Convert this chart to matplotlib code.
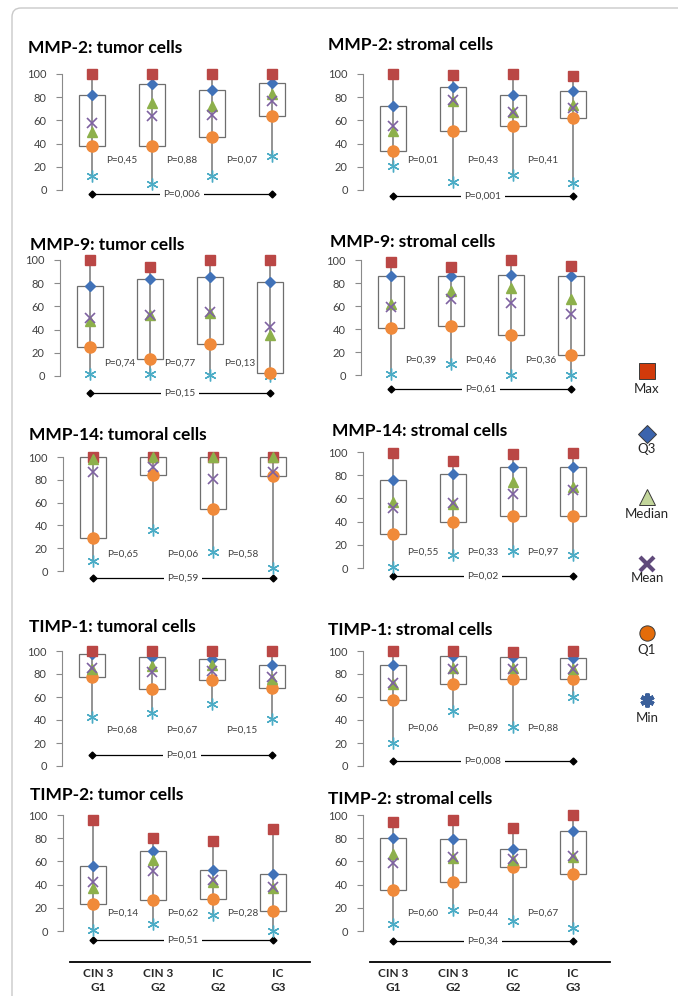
import matplotlib
matplotlib.use("Agg")
import matplotlib.pyplot as plt
from matplotlib import transforms
from matplotlib.patches import Rectangle, FancyBboxPatch

plt.rcParams["font.family"] = ["Lato", "DejaVu Sans"]

# -----------------------------
# Data (rows: Max, Q3, Median, Mean, Q1, Min; columns = groups)
# -----------------------------
groups = ["CIN 3\nG1", "CIN 3\nG2", "IC\nG2", "IC\nG3"]
stat_names = ["Max", "Q3", "Median", "Mean", "Q1", "Min"]

titles = [
    "MMP-2: tumor cells", "MMP-2: stromal cells",
    "MMP-9: tumor cells", "MMP-9: stromal cells",
    "MMP-14: tumoral cells", "MMP-14: stromal cells",
    "TIMP-1: tumoral cells", "TIMP-1: stromal cells",
    "TIMP-2: tumor cells", "TIMP-2: stromal cells",
]

mmp2_tumor = [[100, 100, 100, 100], [82, 91, 86, 92], [50, 75, 72, 83],
              [58, 64, 65, 77], [38, 38, 46, 64], [12, 5, 12, 29]]
mmp2_stromal = [[100, 99, 100, 98], [72, 89, 82, 85], [51, 77, 67, 73],
                [55, 78, 67, 71], [34, 51, 55, 62], [21, 7, 13, 6]]
mmp9_tumor = [[100, 94, 100, 100], [78, 84, 85, 81], [47, 53, 54, 35],
              [50, 53, 55, 42], [25, 15, 28, 3], [2, 2, 1, 0]]
mmp9_stromal = [[98, 94, 100, 95], [86, 86, 87, 86], [62, 73, 76, 66],
                [59, 66, 63, 53], [41, 43, 35, 17], [1, 10, 0, 0]]
mmp14_tumor = [[100, 100, 100, 100], [100, 100, 100, 100], [98, 100, 100, 100],
               [87, 91, 81, 87], [29, 84, 54, 83], [9, 36, 17, 3]]
mmp14_stromal = [[99, 92, 98, 99], [76, 81, 87, 87], [57, 55, 74, 70],
                 [52, 56, 64, 67], [29, 40, 45, 45], [1, 11, 15, 11]]
timp1_tumor = [[100, 100, 100, 100], [97, 95, 93, 88], [84, 87, 88, 76],
               [85, 82, 83, 77], [77, 67, 75, 68], [43, 46, 54, 41]]
timp1_stromal = [[100, 100, 99, 100], [88, 96, 95, 94], [71, 85, 85, 84],
                 [72, 84, 84, 84], [57, 71, 76, 76], [20, 48, 34, 60]]
timp2_tumor = [[96, 80, 78, 88], [56, 69, 53, 49], [37, 61, 42, 37],
               [42, 52, 44, 38], [23, 27, 28, 17], [1, 6, 14, 0]]
timp2_stromal = [[94, 96, 89, 100], [80, 79, 71, 86], [66, 63, 61, 64],
                 [59, 64, 62, 65], [35, 42, 55, 49], [6, 18, 9, 3]]

panels = [mmp2_tumor, mmp2_stromal, mmp9_tumor, mmp9_stromal, mmp14_tumor,
          mmp14_stromal, timp1_tumor, timp1_stromal, timp2_tumor, timp2_stromal]

# P values between neighbouring groups, and first vs last group
p_pairs = [
    ["P=0,45", "P=0,88", "P=0,07"], ["P=0,01", "P=0,43", "P=0,41"],
    ["P=0,74", "P=0,77", "P=0,13"], ["P=0,39", "P=0,46", "P=0,36"],
    ["P=0,65", "P=0,06", "P=0,58"], ["P=0,55", "P=0,33", "P=0,97"],
    ["P=0,68", "P=0,67", "P=0,15"], ["P=0,06", "P=0,89", "P=0,88"],
    ["P=0,14", "P=0,62", "P=0,28"], ["P=0,60", "P=0,44", "P=0,67"],
]
p_all = ["P=0,006", "P=0,001", "P=0,15", "P=0,61", "P=0,59",
         "P=0,02", "P=0,01", "P=0,008", "P=0,51", "P=0,34"]

# -----------------------------
# Layout (pixels): axis x, y of 100, y of 0, title x, title y, pair-P y, all-P y (data)
# -----------------------------
layout = [
    (62, 74, 190, 28, 48, 26, -3.5),
    (363, 74, 190, 328, 45, 26, -5),
    (60, 260, 376, 30, 245, 11, -15),
    (361, 260, 375, 330, 242, 13, -12),
    (63, 457, 571, 29, 435, 15, -6),
    (363, 452, 568, 332, 431, 14, -7),
    (62, 651, 766, 29, 627, 31, 9.5),
    (363, 651, 766, 328, 630, 33, 4),
    (63, 815, 931, 30, 795, 15.5, -7.5),
    (363, 815, 931, 328, 799, 15.5, -8.6),
]

colors = {"Max": "#BA4745", "Q3": "#4172B8", "Median": "#8DB04B",
          "Mean": "#7E62A1", "Q1": "#F08A3A", "Min": "#4BACC6"}
markers = {"Max": ("s", 7), "Q3": ("D", 5.5), "Median": ("^", 7.5),
           "Mean": ("x", 7), "Q1": ("o", 8), "Min": ((6, 2, 0), 8.5)}
widths = {"Max": 1.0, "Q3": 1.0, "Median": 1.0, "Mean": 1.2, "Q1": 1.0, "Min": 1.0}
zorders = {"Min": 4, "Q1": 5, "Q3": 6, "Max": 7, "Median": 8, "Mean": 9}

W, H = 678, 996
fig = plt.figure(figsize=(W / 100, H / 100), dpi=100)
over = fig.add_axes([0, 0, 1, 1])
over.set_xlim(0, W)
over.set_ylim(H, 0)
over.axis("off")

over.add_patch(FancyBboxPatch((12, 8), 720, 1050,
                              boxstyle="round,pad=0,rounding_size=9",
                              fill=False, ec="#c9c9c9", lw=1.0, clip_on=False))

YLO, YHI = -22, 108
x = [1, 2, 3, 4]

for k, data in enumerate(panels):
    ax_x, p100, p0, tx, ty, py, pall_y = layout[k]
    ppu = (p0 - p100) / 100
    top_px = p100 - (YHI - 100) * ppu
    bot_px = p0 - YLO * ppu
    ax = fig.add_axes([ax_x / W, 1 - bot_px / H, 252 / W, (bot_px - top_px) / H])
    ax.set_xlim(0.5, 4.7)
    ax.set_ylim(YLO, YHI)
    ax.patch.set_visible(False)
    for s in ["top", "right", "bottom"]:
        ax.spines[s].set_visible(False)
    ax.spines["left"].set_bounds(0, 100)
    ax.spines["left"].set_color("#8a8a8a")
    ax.spines["left"].set_linewidth(0.8)
    ax.set_xticks([])
    ax.set_yticks([0, 20, 40, 60, 80, 100])
    ax.tick_params(axis="y", length=4, width=0.8, color="#8a8a8a",
                   labelsize=8, labelcolor="#404040", pad=7)

    over.text(tx, ty, titles[k], fontsize=12.5, fontweight="bold",
              ha="left", va="center", color="black")

    vmax, q3, med, mean, q1, vmin = data
    for i in range(4):
        ax.add_patch(Rectangle((x[i] - 0.21, q1[i]), 0.42, q3[i] - q1[i],
                               fc="white", ec="#6e6e6e", lw=0.9, zorder=2,
                               clip_on=False))
    ax.vlines(x, vmin, vmax, color="#808080", lw=1.2, zorder=3, clip_on=False)

    for name, vals in zip(stat_names, data):
        m, ms = markers[name]
        ax.plot(x, vals, ls="none", marker=m, ms=ms, color=colors[name],
                mec=colors[name], mew=widths[name], zorder=zorders[name],
                clip_on=False)

    for j, label in enumerate(p_pairs[k]):
        ax.text(x[j] + 0.5, py, label, ha="center", va="center",
                fontsize=7.2, color="#404040", zorder=10)

    ax.plot([1, 4], [pall_y, pall_y], color="black", lw=0.9, marker="D",
            ms=3.5, zorder=3, clip_on=False)
    ax.text(2.5, pall_y, p_all[k], ha="center", va="center", fontsize=7.2,
            color="#404040", zorder=10,
            bbox=dict(fc="white", ec="none", pad=2.5))

    # group labels under the bottom row
    if k >= 8:
        trans = transforms.blended_transform_factory(ax.transData, over.transData)
        ax.plot([0.62, 4.62], [962, 962], color="black", lw=1.3,
                transform=trans, clip_on=False)
        for i, g in enumerate(groups):
            ax.text(x[i] + (0.08 if k == 8 else 0), 968, g, transform=trans,
                    ha="center", va="top", fontsize=8.5, fontweight="bold",
                    color="#262626", linespacing=1.35, clip_on=False)

# -----------------------------
# Legend
# -----------------------------
leg_colors = {"Max": "#D13A0B", "Q3": "#3B64AD", "Median": "#C3D69B",
              "Mean": "#604A7B", "Q1": "#E46C0A", "Min": "#3A5F9A"}
leg_markers = {"Max": ("s", 11), "Q3": ("D", 9), "Median": ("^", 12),
               "Mean": ("x", 9.5), "Q1": ("o", 11), "Min": ((6, 2, 0), 10)}
leg_mark_y = [371, 434, 497, 564, 633, 700]
leg_text_y = [389, 449, 514, 578, 650, 718]
for name, my, ly in zip(stat_names, leg_mark_y, leg_text_y):
    m, ms = leg_markers[name]
    if name in ("Mean", "Min"):
        over.plot(647, my, ls="none", marker=m, ms=ms, color=leg_colors[name],
                  mew=3)
    else:
        over.plot(647, my, ls="none", marker=m, ms=ms, mfc=leg_colors[name],
                  mec="#3a3a3a", mew=0.7)
    over.text(647, ly, name, ha="center", va="center", fontsize=9.5,
              color="#262626")

fig.savefig("out.png", dpi=100)
